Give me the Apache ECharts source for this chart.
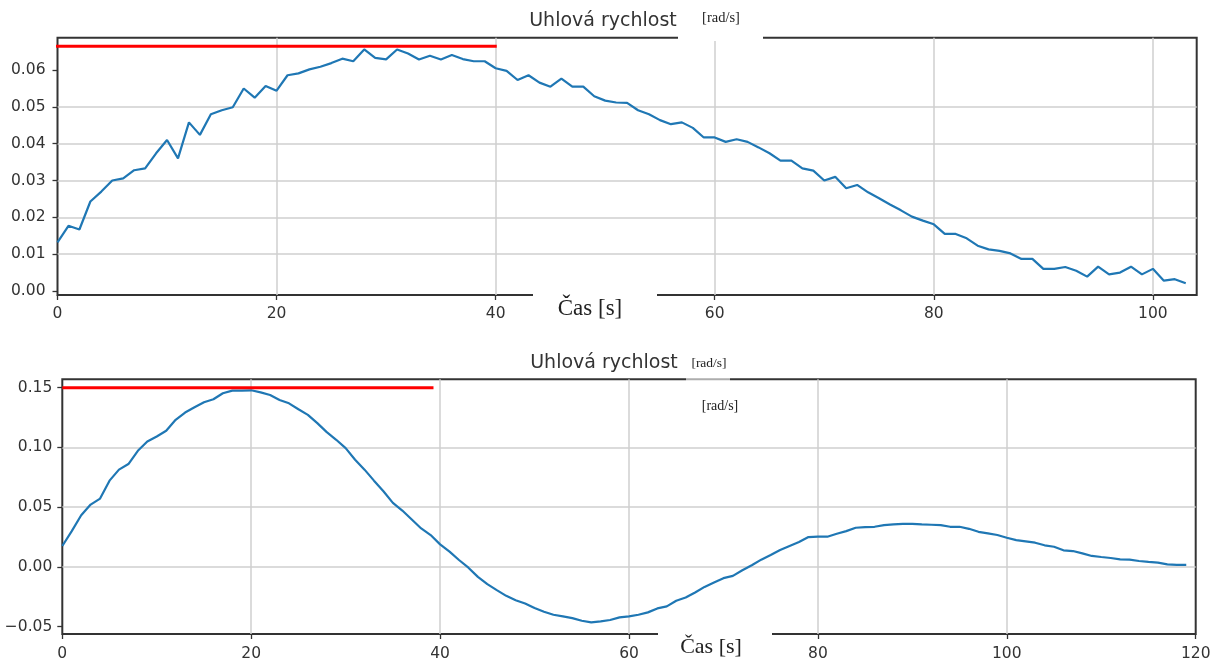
<!DOCTYPE html>
<html>
<head>
<meta charset="utf-8">
<script src="https://cdn.jsdelivr.net/npm/echarts@6/dist/echarts.min.js"></script>
<style>
  html, body { margin: 0; padding: 0; background: #fff; }
  #chart { width: 1220px; height: 662px; }
</style>
</head>
<body>
<div id="chart"></div>
<script>
// angular velocity, first run (one sample per second, t = 0..103)
const topOmega = [
  0.0132, 0.0177, 0.0167, 0.0243, 0.0270, 0.0300, 0.0306, 0.0328, 0.0333, 0.0374,
  0.0410, 0.0360, 0.0458, 0.0424, 0.0480, 0.0491, 0.0499, 0.0550, 0.0525, 0.0557,
  0.0544, 0.0586, 0.0591, 0.0602, 0.0609, 0.0619, 0.0631, 0.0624, 0.0656, 0.0633,
  0.0629, 0.0656, 0.0645, 0.0629, 0.0639, 0.0629, 0.0641, 0.0630, 0.0624, 0.0624,
  0.0605, 0.0598, 0.0573, 0.0586, 0.0566, 0.0555, 0.0577, 0.0555, 0.0555, 0.0529,
  0.0517, 0.0512, 0.0511, 0.0491, 0.0480, 0.0464, 0.0453, 0.0458, 0.0443, 0.0417,
  0.0417, 0.0405, 0.0412, 0.0405, 0.0390, 0.0374, 0.0354, 0.0354, 0.0333, 0.0327,
  0.0300, 0.0310, 0.0279, 0.0288, 0.0268, 0.0252, 0.0235, 0.0219, 0.0202, 0.0191,
  0.0181, 0.0155, 0.0155, 0.0143, 0.0123, 0.0113, 0.0109, 0.0102, 0.0087, 0.0087,
  0.0060, 0.0060, 0.0065, 0.0055, 0.0039, 0.0066, 0.0045, 0.0050, 0.0066, 0.0045,
  0.0060, 0.0028, 0.0032, 0.0021
];

// angular velocity, second run (t = 0..119)
const bottomOmega = [
  0.0175, 0.0300, 0.0433, 0.0522, 0.0572, 0.0722, 0.0814, 0.0861, 0.0972, 0.1050,
  0.1092, 0.1139, 0.1231, 0.1292, 0.1336, 0.1378, 0.1403, 0.1453, 0.1475, 0.1475,
  0.1478, 0.1461, 0.1439, 0.1397, 0.1369, 0.1319, 0.1272, 0.1203, 0.1128, 0.1064,
  0.0994, 0.0897, 0.0814, 0.0722, 0.0633, 0.0536, 0.0472, 0.0397, 0.0322, 0.0267,
  0.0189, 0.0128, 0.0058, -0.0006, -0.0083, -0.0144, -0.0194, -0.0242, -0.0278, -0.0306,
  -0.0344, -0.0375, -0.0400, -0.0414, -0.0428, -0.0450, -0.0464, -0.0456, -0.0444, -0.0422,
  -0.0414, -0.0400, -0.0380, -0.0347, -0.0330, -0.0283, -0.0256, -0.0214, -0.0167, -0.0130,
  -0.0094, -0.0075, -0.0028, 0.0014, 0.0061, 0.0100, 0.0142, 0.0175, 0.0208, 0.0250,
  0.0253, 0.0253, 0.0278, 0.0300, 0.0328, 0.0333, 0.0336, 0.0350, 0.0356, 0.0361,
  0.0361, 0.0356, 0.0353, 0.0350, 0.0336, 0.0336, 0.0319, 0.0294, 0.0281, 0.0267,
  0.0244, 0.0225, 0.0214, 0.0203, 0.0181, 0.0169, 0.0139, 0.0133, 0.0114, 0.0092,
  0.0083, 0.0075, 0.0064, 0.0061, 0.0050, 0.0042, 0.0036, 0.0022, 0.0017, 0.0017
];

// red reference lines [t, omega]
const topLimit = [[-0.9, 0.0665], [40.1, 0.0665]];
const bottomLimit = [[0, 0.15], [39.3, 0.15]];

// tick labels
const topXTicks = [0, 20, 40, 60, 80, 100];
const topYTicks = [0, 0.01, 0.02, 0.03, 0.04, 0.05, 0.06];
const bottomXTicks = [0, 20, 40, 60, 80, 100, 120];
const bottomYTicks = [-0.05, 0, 0.05, 0.10, 0.15];

const titleText = 'Uhlová rychlost';
const unitText = '[rad/s]';
const timeText = 'Čas [s]';

const toPairs = arr => arr.map((v, i) => [i, v]);
const fmtY = v => v.toFixed(2).replace('-', '\u2212');

const tickFont = { fontFamily: 'DejaVu Sans', fontSize: 15.5, color: '#333' };
const gridStyle = { color: '#cfcfcf', width: 1.5 };
const tick = { show: true, inside: false, length: 5, lineStyle: { color: '#333', width: 1.3 } };

function xAxis(gridIndex, max, ticks, margin, showMaxLine) {
  return {
    type: 'value', gridIndex, min: 0, max, position: 'bottom',
    axisLine: { show: false, onZero: false },
    axisTick: Object.assign({ customValues: ticks }, tick),
    axisLabel: Object.assign({ customValues: ticks, margin }, tickFont),
    splitLine: { show: true, showMinLine: false, showMaxLine, lineStyle: gridStyle }
  };
}

function yAxis(gridIndex, min, max, splitNumber, ticks, margin) {
  return {
    type: 'value', gridIndex, min, max, splitNumber, position: 'left',
    axisLine: { show: false, onZero: false },
    axisTick: Object.assign({ customValues: ticks }, tick),
    axisLabel: Object.assign({ customValues: ticks, margin, formatter: fmtY }, tickFont),
    splitLine: { show: true, showMinLine: false, showMaxLine: false, lineStyle: gridStyle }
  };
}

const chart = echarts.init(document.getElementById('chart'));

chart.setOption({
  animation: false,
  backgroundColor: '#fff',
  grid: [
    { left: 57.5, top: 37.7, width: 1139.2, height: 257.3, show: true, borderColor: '#333', borderWidth: 2, backgroundColor: 'transparent' },
    { left: 62.3, top: 379.3, width: 1133.4, height: 255.7, show: true, borderColor: '#333', borderWidth: 2, backgroundColor: 'transparent' }
  ],
  xAxis: [
    xAxis(0, 104, topXTicks, 11, true),
    xAxis(1, 120, bottomXTicks, 12, false)
  ],
  yAxis: [
    yAxis(0, -0.0011, 0.0688, 7, topYTicks, 12),
    yAxis(1, -0.0561, 0.157, 4, bottomYTicks, 10)
  ],
  series: [
    {
      type: 'line', xAxisIndex: 0, yAxisIndex: 0,
      data: toPairs(topOmega), showSymbol: false,
      lineStyle: { color: '#1f77b4', width: 2.2 }, z: 3
    },
    {
      type: 'line', xAxisIndex: 1, yAxisIndex: 1,
      data: toPairs(bottomOmega), showSymbol: false,
      lineStyle: { color: '#1f77b4', width: 2.2 }, z: 3
    },
    {
      type: 'line', xAxisIndex: 0, yAxisIndex: 0, clip: false,
      data: topLimit, showSymbol: false,
      lineStyle: { color: '#ff0000', width: 3 }, z: 4
    },
    {
      type: 'line', xAxisIndex: 1, yAxisIndex: 1, clip: false,
      data: bottomLimit, showSymbol: false,
      lineStyle: { color: '#ff0000', width: 3 }, z: 4
    }
  ],
  graphic: [
    // white patches pasted over the frame
    { type: 'rect', z: 100, shape: { x: 678, y: 30, width: 85, height: 11 }, style: { fill: '#fff' } },
    { type: 'rect', z: 100, shape: { x: 533, y: 288, width: 124, height: 42 }, style: { fill: '#fff' } },
    { type: 'rect', z: 100, shape: { x: 686, y: 377, width: 44, height: 5 }, style: { fill: 'rgba(255,255,255,0.6)' } },
    { type: 'rect', z: 100, shape: { x: 658, y: 624, width: 114, height: 38 }, style: { fill: '#fff' } },

    { type: 'text', z: 101, x: 603, y: 21, style: { text: titleText, font: '19px "DejaVu Sans"', fill: '#333', align: 'center', verticalAlign: 'middle' } },
    { type: 'text', z: 101, x: 721, y: 18, style: { text: unitText, font: '14.5px "Liberation Serif"', fill: '#222', align: 'center', verticalAlign: 'middle' } },
    { type: 'text', z: 101, x: 590, y: 309, style: { text: timeText, font: '23px "Liberation Serif"', fill: '#222', align: 'center', verticalAlign: 'middle' } },

    { type: 'text', z: 101, x: 604, y: 363, style: { text: titleText, font: '19px "DejaVu Sans"', fill: '#333', align: 'center', verticalAlign: 'middle' } },
    { type: 'text', z: 101, x: 709, y: 363, style: { text: unitText, font: '13.5px "Liberation Serif"', fill: '#222', align: 'center', verticalAlign: 'middle' } },
    { type: 'text', z: 101, x: 720, y: 406, style: { text: unitText, font: '14px "Liberation Serif"', fill: '#222', align: 'center', verticalAlign: 'middle' } },
    { type: 'text', z: 101, x: 711, y: 647, style: { text: timeText, font: '22px "Liberation Serif"', fill: '#222', align: 'center', verticalAlign: 'middle' } }
  ]
});
</script>
</body>
</html>
